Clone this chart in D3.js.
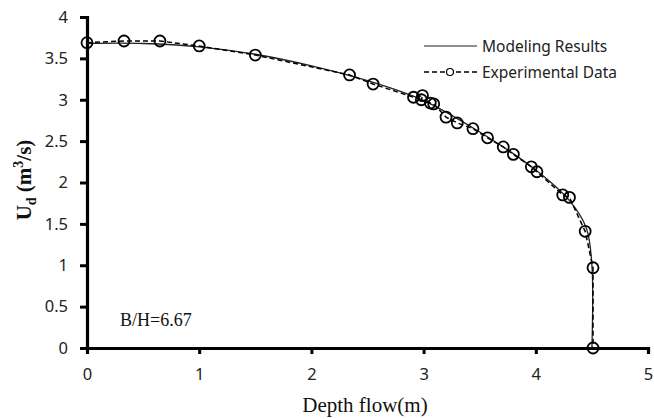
<!DOCTYPE html>
<html>
<head>
<meta charset="utf-8">
<script src="https://cdn.jsdelivr.net/npm/d3@7"></script>
<style>
  body { margin: 0; background: #fff; }
  svg { display: block; }
</style>
</head>
<body>
<div id="chart"></div>
<script>
var width = 654,
    height = 419;

// experimental points: depth (m), Ud
var expDepth = [0, 0.33, 0.65, 1.0, 1.5, 2.34, 2.55, 2.91, 2.99, 2.98, 3.06, 3.09, 3.20, 3.30, 3.44, 3.57, 3.71, 3.80, 3.96, 4.01, 4.24, 4.30, 4.44, 4.51, 4.51];
var expUd    = [3.69, 3.71, 3.71, 3.65, 3.54, 3.30, 3.19, 3.03, 3.05, 3.00, 2.96, 2.95, 2.79, 2.72, 2.65, 2.54, 2.43, 2.34, 2.19, 2.13, 1.85, 1.82, 1.41, 0.97, 0];

// modeling curve
var modDepth = [0, 0.5, 1.0, 1.5, 2.0, 2.5, 3.0, 3.5, 4.0, 4.3, 4.45, 4.5, 4.5];
var modUd    = [3.68, 3.68, 3.64, 3.55, 3.41, 3.23, 2.99, 2.61, 2.15, 1.78, 1.45, 1.0, 0];

var xTicks = [0, 1, 2, 3, 4, 5];
var yTicks = [0, 0.5, 1, 1.5, 2, 2.5, 3, 3.5, 4];

var margin = {left: 87, right: 6, top: 17, bottom: 71};

var svg = d3.select("#chart").append("svg")
    .attr("width", width)
    .attr("height", height);

var x = d3.scaleLinear().domain([0, 5]).range([margin.left, width - margin.right]);
var y = d3.scaleLinear().domain([0, 4]).range([height - margin.bottom, margin.top]);

var sans = "'Noto Sans', 'Open Sans', sans-serif";
var serif = "'Liberation Serif', 'DejaVu Serif', serif";

// axes
var xAxis = svg.append("g")
    .attr("transform", "translate(0," + y(0) + ")")
    .call(d3.axisBottom(x).tickValues(xTicks).tickSize(6).tickPadding(14).tickFormat(d3.format("d")));
var yAxis = svg.append("g")
    .attr("transform", "translate(" + x(0) + ",0)")
    .call(d3.axisLeft(y).tickValues(yTicks).tickSize(7).tickPadding(12).tickFormat(function(d) { return d; }));

[xAxis, yAxis].forEach(function(a) {
    a.select(".domain").attr("stroke", "#000").attr("stroke-width", 3.2);
    a.selectAll(".tick line").attr("stroke", "#000").attr("stroke-width", 3);
    a.selectAll(".tick text")
        .attr("fill", "#222")
        .style("font-family", sans)
        .style("font-size", "16.5px");
});

// model line
var modData = modDepth.map(function(d, i) { return [d, modUd[i]]; });
var line = d3.line()
    .x(function(d) { return x(d[0]); })
    .y(function(d) { return y(d[1]); })
    .curve(d3.curveCatmullRom.alpha(0.5));

svg.append("path")
    .datum(modData)
    .attr("d", line)
    .attr("fill", "none")
    .attr("stroke", "#222")
    .attr("stroke-width", 1.3);

// experimental dashed line + circles
var expData = expDepth.map(function(d, i) { return [d, expUd[i]]; });
var lineLin = d3.line()
    .x(function(d) { return x(d[0]); })
    .y(function(d) { return y(d[1]); });

svg.append("path")
    .datum(expData)
    .attr("d", lineLin)
    .attr("fill", "none")
    .attr("stroke", "#000")
    .attr("stroke-width", 1.5)
    .attr("stroke-dasharray", "5,3");

svg.selectAll(".pt")
    .data(expData)
    .enter().append("circle")
    .attr("class", "pt")
    .attr("cx", function(d) { return x(d[0]); })
    .attr("cy", function(d) { return y(d[1]); })
    .attr("r", 5.5)
    .attr("fill", "none")
    .attr("stroke", "#000")
    .attr("stroke-width", 1.8);

// legend
var lg = svg.append("g").attr("transform", "translate(424,46)");
lg.append("line").attr("x1", 0).attr("x2", 53).attr("y1", 0).attr("y2", 0)
    .attr("stroke", "#222").attr("stroke-width", 1.2);
lg.append("text").attr("x", 58).attr("y", 6).text("Modeling Results");
lg.append("line").attr("x1", 0).attr("x2", 53).attr("y1", 26).attr("y2", 26)
    .attr("stroke", "#000").attr("stroke-width", 1.5).attr("stroke-dasharray", "5,3");
lg.append("circle").attr("cx", 26).attr("cy", 26).attr("r", 3.5)
    .attr("fill", "#fff").attr("stroke", "#000").attr("stroke-width", 1.2);
lg.append("text").attr("x", 58).attr("y", 32).text("Experimental Data");
lg.selectAll("text")
    .attr("fill", "#222")
    .style("font-family", sans)
    .style("font-size", "15.5px");

// annotation
svg.append("text")
    .attr("x", 120).attr("y", 326)
    .style("font-family", serif)
    .style("font-size", "18px")
    .attr("fill", "#111")
    .text("B/H=6.67");

// axis titles
svg.append("text")
    .attr("x", 365).attr("y", 412)
    .attr("text-anchor", "middle")
    .style("font-family", serif)
    .style("font-size", "21px")
    .attr("fill", "#111")
    .text("Depth flow(m)");

var yt = svg.append("text")
    .attr("transform", "translate(31,180) rotate(-90)")
    .attr("text-anchor", "middle")
    .style("font-family", serif)
    .style("font-size", "21px")
    .style("font-weight", "bold")
    .attr("fill", "#111");
yt.append("tspan").text("U");
yt.append("tspan").attr("dy", 5).style("font-size", "14px").text("d");
yt.append("tspan").attr("dy", -5).text(" (m");
yt.append("tspan").attr("dy", -8).style("font-size", "14px").text("3");
yt.append("tspan").attr("dy", 8).text("/s)");
</script>
</body>
</html>
